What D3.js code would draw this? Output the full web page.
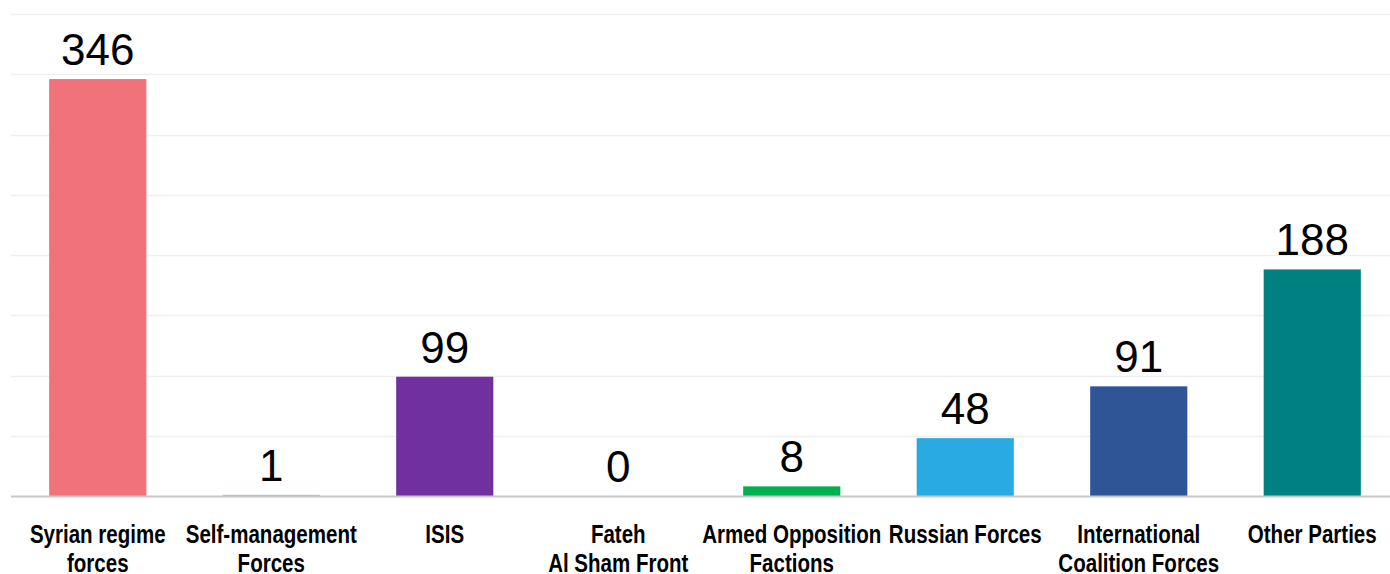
<!DOCTYPE html>
<html>
<head>
<meta charset="utf-8">
<script src="https://cdn.jsdelivr.net/npm/d3@7"></script>
<style>
  body { margin: 0; background: #fff; }
  svg { display: block; }
</style>
</head>
<body>
<div id="chart"></div>
<script>
const FRAME_WIDTH = 1390;
const FRAME_HEIGHT = 574;
const MARGINS = {left: 11, right: -9, top: 14, bottom: 78};

const VIS_WIDTH = FRAME_WIDTH - MARGINS.left - MARGINS.right;
const VIS_HEIGHT = FRAME_HEIGHT - MARGINS.top - MARGINS.bottom;

// data
const categories = [
  ["Syrian regime", "forces"],
  ["Self-management", "Forces"],
  ["ISIS"],
  ["Fateh", "Al Sham Front"],
  ["Armed Opposition", "Factions"],
  ["Russian Forces"],
  ["International", "Coalition Forces"],
  ["Other Parties"]
];
const values = [346, 1, 99, 0, 8, 48, 91, 188];
const barColors = ["#f1727a", "#a8c3cb", "#7030a0", "#999999", "#00b050", "#29abe2", "#2f5597", "#008080"];
const yTicks = [0, 50, 100, 150, 200, 250, 300, 350, 400];

const data = values.map((v, i) => ({ label: categories[i], value: v, color: barColors[i], id: i }));

const FRAME = d3.select("#chart")
                .append("svg")
                  .attr("width", FRAME_WIDTH)
                  .attr("height", FRAME_HEIGHT);

const X_SCALE = d3.scaleBand()
                  .domain(data.map(d => d.id))
                  .range([0, VIS_WIDTH])
                  .paddingInner(0.44)
                  .paddingOuter(0.22);

const Y_SCALE = d3.scaleLinear()
                  .domain([0, 400])
                  .range([VIS_HEIGHT, 0]);

const G = FRAME.append("g")
               .attr("transform", "translate(" + MARGINS.left + "," + MARGINS.top + ")");

// gridlines
G.selectAll(".grid")
  .data(yTicks.slice(1))
  .enter()
  .append("line")
    .attr("x1", 0)
    .attr("x2", VIS_WIDTH)
    .attr("y1", d => Math.round(Y_SCALE(d)) + 0.5)
    .attr("y2", d => Math.round(Y_SCALE(d)) + 0.5)
    .attr("stroke", "#efefef")
    .attr("stroke-width", 1.5);

// bars
G.selectAll(".bar")
  .data(data)
  .enter()
  .append("rect")
    .attr("x", d => X_SCALE(d.id))
    .attr("y", d => Y_SCALE(d.value))
    .attr("width", X_SCALE.bandwidth())
    .attr("height", d => VIS_HEIGHT - Y_SCALE(d.value))
    .attr("fill", d => d.color);

// baseline
G.append("line")
  .attr("x1", 0)
  .attr("x2", VIS_WIDTH)
  .attr("y1", VIS_HEIGHT + 0.5)
  .attr("y2", VIS_HEIGHT + 0.5)
  .attr("stroke", "#c8c8c8")
  .attr("stroke-width", 2);

// value labels
G.selectAll(".val")
  .data(data)
  .enter()
  .append("text")
    .attr("x", d => X_SCALE(d.id) + X_SCALE.bandwidth() / 2)
    .attr("y", d => Math.min(Y_SCALE(d.value) - 14, VIS_HEIGHT - 12))
    .attr("text-anchor", "middle")
    .attr("font-family", "Liberation Sans, Arial, sans-serif")
    .attr("font-size", "44px")
    .attr("fill", "#000")
    .text(d => d.value);

// category labels (condensed look: squeeze horizontally)
const CAT = G.selectAll(".cat")
  .data(data)
  .enter()
  .append("text")
    .attr("transform", d => "translate(" + (X_SCALE(d.id) + X_SCALE.bandwidth() / 2) + "," + (VIS_HEIGHT + 47) + ") scale(0.79,1)")
    .attr("text-anchor", "middle")
    .attr("font-family", "Liberation Sans, Arial, sans-serif")
    .attr("font-weight", "bold")
    .attr("font-size", "26px")
    .attr("fill", "#000");

CAT.selectAll("tspan")
  .data(d => d.label)
  .enter()
  .append("tspan")
    .attr("x", 0)
    .attr("dy", (d, i) => i === 0 ? 0 : 29)
    .text(d => d);
</script>
</body>
</html>
